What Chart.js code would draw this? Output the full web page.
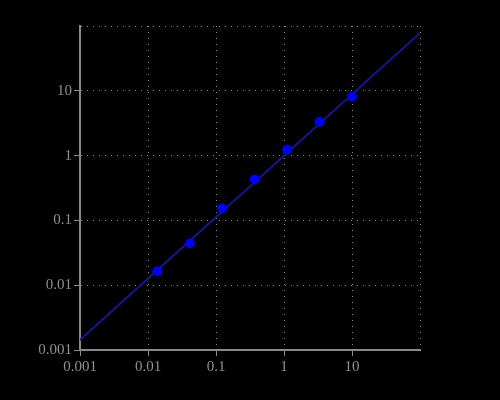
<!DOCTYPE html>
<html>
<head>
<meta charset="utf-8">
<script src="https://cdn.jsdelivr.net/npm/chart.js@4/dist/chart.umd.min.js"></script>
<style>
html,body{margin:0;padding:0;background:#000;}
#wrap{width:500px;height:400px;}
</style>
</head>
<body>
<div id="wrap"><canvas id="c" width="500" height="400"></canvas></div>
<script>
const xValues = [0.0137, 0.0412, 0.123, 0.370, 1.11, 3.33, 10];
const yValues = [0.0164, 0.0443, 0.153, 0.427, 1.24, 3.33, 8.1];
const fitX = [0.001, 100];
const fitY = [0.00143, 78];
const tickValues = [0.001, 0.01, 0.1, 1, 10, 100];
const tickLabels = ['0.001', '0.01', '0.1', '1', '10', ''];

const pts = xValues.map((x, i) => ({x: x, y: yValues[i]}));
const fit = fitX.map((x, i) => ({x: x, y: fitY[i]}));

function setTicks(scale) {
  scale.ticks = tickValues.map(v => ({value: v}));
}
function labelFor(v) {
  const i = tickValues.findIndex(t => Math.abs(Math.log10(t) - Math.log10(v)) < 1e-6);
  return i >= 0 ? tickLabels[i] : '';
}

const axisCommon = {
  type: 'logarithmic',
  min: 0.001,
  max: 100,
  afterBuildTicks: setTicks,
  grid: {
    color: '#8a8a8a',
    lineWidth: 1,
    tickColor: function(ctx) { return ctx.index === tickValues.length - 1 ? 'rgba(0,0,0,0)' : '#8a8a8a'; },
    tickLength: 6,
    drawTicks: true
  },
  border: {display: true, color: '#8a8a8a', width: 2, dash: [1, 5]},
  ticks: {
    color: '#8f8f8f',
    font: {family: '"Liberation Serif", serif', size: 15},
    padding: 2,
    autoSkip: false,
    maxRotation: 0,
    callback: function(v) { return labelFor(v); }
  }
};

new Chart(document.getElementById('c'), {
  type: 'scatter',
  data: {
    datasets: [
      {
        type: 'line',
        data: fit,
        borderColor: '#16168c',
        borderWidth: 2,
        pointRadius: 0,
        showLine: true,
        fill: false,
        order: 2
      },
      {
        data: pts,
        pointStyle: 'circle',
        backgroundColor: '#0000ff',
        borderColor: '#0000ff',
        pointRadius: 4.5,
        pointBorderWidth: 1,
        order: 1
      }
    ]
  },
  options: {
    responsive: false,
    animation: false,
    layout: {padding: {left: 0, right: 80, top: 26, bottom: 0}},
    plugins: {legend: {display: false}, tooltip: {enabled: false}},
    scales: {
      x: Object.assign({}, axisCommon, {
        position: 'bottom',
        afterFit: function(s) { s.height = 50; }
      }),
      y: Object.assign({}, axisCommon, {
        position: 'left',
        afterFit: function(s) { s.width = 80; }
      })
    }
  }
});
</script>
</body>
</html>
